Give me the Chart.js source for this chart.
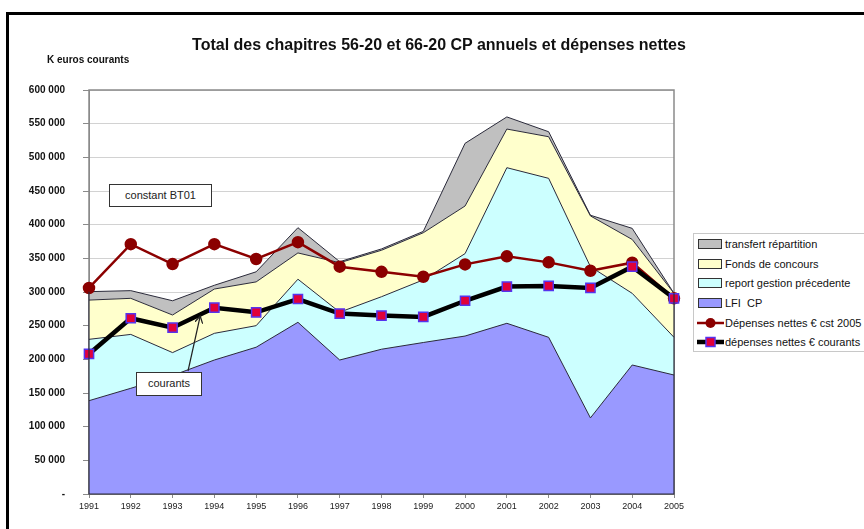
<!DOCTYPE html>
<html>
<head>
<meta charset="utf-8">
<script src="https://cdn.jsdelivr.net/npm/chart.js@4"></script>
<style>
  html, body { margin: 0; padding: 0; background: #fff; }
  #wrap { position: relative; width: 864px; height: 529px; overflow: hidden; font-family: "Liberation Sans", Arial, sans-serif; }
  #frame { position: absolute; left: 6px; top: 12px; width: 900px; height: 600px; border-left: 3px solid #000; border-top: 3px solid #000; }
  #cv { position: absolute; left: 0; top: 0; }
  #title { position: absolute; left: 0; width: 878px; top: 36px; text-align: center; font-weight: bold; font-size: 16px; color: #111; white-space: nowrap; }
  #unit { position: absolute; left: 47px; top: 54px; font-weight: bold; font-size: 10px; color: #111; white-space: nowrap; }
  #legend { position: absolute; left: 693px; top: 233px; width: 200px; height: 117px; border: 1px solid #c8c8c8; background: #fff; }
  .li { position: absolute; left: 0; height: 16px; font-size: 11px; line-height: 16px; color: #111; white-space: pre; }
  .li .sw { position: absolute; left: 4px; top: 3px; width: 22px; height: 8px; border: 1.5px solid #333; }
  .li .tx { position: absolute; left: 31px; top: 0; white-space: pre; }
  .box { position: absolute; border: 1.5px solid #333; background: #fff; font-size: 11px; text-align: center; color: #222; box-sizing: border-box; }
  #ov { position: absolute; left: 0; top: 0; }
</style>
</head>
<body>
<div id="wrap">
  <div id="frame"></div>
  <canvas id="cv" width="864" height="529"></canvas>
  <div id="title">Total des chapitres 56-20 et 66-20 CP annuels et dépenses nettes</div>
  <div id="unit">K euros courants</div>
  <div id="legend"></div>
  <svg id="ov" width="864" height="529">
    <defs>
      <marker id="ah" markerWidth="8" markerHeight="8" refX="6" refY="4" orient="auto" markerUnits="userSpaceOnUse">
        <path d="M0,0 L7,4 L0,8" fill="none" stroke="#222" stroke-width="1.2"/>
      </marker>
    </defs>
    <line x1="188" y1="371" x2="200" y2="317" stroke="#222" stroke-width="1.2" marker-end="url(#ah)"/>
  </svg>
  <div class="box" style="left:109px;top:184px;width:103px;height:23px;line-height:20px;">constant BT01</div>
  <div class="box" style="left:136px;top:372px;width:66px;height:24px;line-height:21px;">courants</div>
</div>
<script>
// ---- data (K euros courants) ----
const years = ['1991','1992','1993','1994','1995','1996','1997','1998','1999','2000','2001','2002','2003','2004','2005'];
const lfiCP = [138600,157000,176000,199000,218000,255000,199000,215000,225000,234600,253500,232700,113000,191600,176700];
const reportGestion = [91100,80000,34000,39600,32000,64000,71000,78000,93000,122400,231100,236100,224600,106400,56000];
const fondsConcours = [58300,53600,55800,65800,65000,39000,73500,69000,70000,70700,57400,61800,75400,80000,65300];
const transfertRepartition = [12500,11400,21200,5600,15000,37500,1500,2000,2000,93100,18000,7400,1000,16500,0];
const depensesCst2005 = [306000,371000,341500,371000,349000,374000,337600,330000,322700,341000,353000,344000,331600,343500,290600];
const depensesCourants = [208000,261000,247000,276700,269800,289600,268000,265000,263000,287000,308000,309000,306000,337600,290600];
const yTicks = [0,50000,100000,150000,200000,250000,300000,350000,400000,450000,500000,550000,600000];

const labels = {
  transfert: 'transfert répartition',
  fonds: 'Fonds de concours',
  report: 'report gestion précedente',
  lfi: 'LFI  CP',
  cst: 'Dépenses nettes € cst 2005',
  cour: 'dépenses nettes € courants'
};

const C = {
  lfi: '#9999FF', report: '#CCFFFF', fonds: '#FFFFCC', transfert: '#C0C0C0',
  edge: '#2a2a3a', red: '#8B0000', black: '#000000', sqFill: '#E0003A', sqEdge: '#5533EE'
};

function area(label, data, color, fill) {
  return { type: 'line', label, data, stack: 'areas', fill, backgroundColor: color,
    borderColor: C.edge, borderWidth: 1, pointRadius: 0, tension: 0 };
}

const frame = {
  id: 'frame',
  beforeDatasetsDraw(chart) {
    const a = chart.chartArea, ctx = chart.ctx;
    ctx.save(); ctx.strokeStyle = '#8a8a8a'; ctx.lineWidth = 1.5;
    ctx.strokeRect(a.left, a.top, a.right - a.left, a.bottom - a.top);
    ctx.restore();
  },
  afterDatasetsDraw(chart) {
    const ctx = chart.ctx, y = chart.scales.y, x = chart.scales.x;
    const n = years.length - 1;
    const topL = lfiCP[0] + reportGestion[0] + fondsConcours[0] + transfertRepartition[0];
    const topR = lfiCP[n] + reportGestion[n] + fondsConcours[n] + transfertRepartition[n];
    ctx.save(); ctx.strokeStyle = C.edge; ctx.lineWidth = 1.2;
    ctx.beginPath();
    ctx.moveTo(x.getPixelForValue(0), y.getPixelForValue(topL));
    ctx.lineTo(x.getPixelForValue(0), y.getPixelForValue(0));
    ctx.lineTo(x.getPixelForValue(n), y.getPixelForValue(0));
    ctx.lineTo(x.getPixelForValue(n), y.getPixelForValue(topR));
    ctx.stroke(); ctx.restore();
  }
};

new Chart(document.getElementById('cv'), {
  type: 'line',
  data: {
    labels: years,
    datasets: [
      { label: labels.cour, data: depensesCourants, stack: 'cour', fill: false, borderColor: C.black, borderWidth: 4.5,
        pointStyle: 'rect', pointRadius: 6.5, pointBackgroundColor: C.sqFill, pointBorderColor: C.sqEdge, pointBorderWidth: 1.5, tension: 0 },
      { label: labels.cst, data: depensesCst2005, stack: 'cst', fill: false, borderColor: C.red, borderWidth: 2.5,
        pointStyle: 'circle', pointRadius: 5, pointBackgroundColor: C.red, pointBorderColor: C.red, tension: 0 },
      area(labels.lfi, lfiCP, C.lfi, 'origin'),
      area(labels.report, reportGestion, C.report, '-1'),
      area(labels.fonds, fondsConcours, C.fonds, '-1'),
      area(labels.transfert, transfertRepartition, C.transfert, '-1')
    ]
  },
  options: {
    responsive: false,
    animation: false,
    events: [],
    layout: { padding: { left: 0, right: 190, top: 90, bottom: 0 } },
    plugins: { legend: { display: false }, title: { display: false }, tooltip: { enabled: false } },
    scales: {
      x: {
        offset: false,
        grid: { display: true, drawOnChartArea: false, tickLength: 4, tickColor: '#8a8a8a' },
        border: { display: true, color: '#8a8a8a' },
        ticks: { maxRotation: 0, autoSkip: false, padding: 3, color: '#222',
          font: { family: "'Liberation Sans Narrow', 'Liberation Sans', Arial", size: 9 } },
        afterFit(s) { s.height = 35; }
      },
      y: {
        stacked: true,
        min: 0, max: 600000,
        afterBuildTicks(s) { s.ticks = yTicks.map(v => ({ value: v })); },
        grid: { color: '#d2d2d2', lineWidth: 1, tickLength: 6, tickColor: '#8a8a8a' },
        border: { display: true, color: '#8a8a8a' },
        ticks: { padding: 18, color: '#111',
          font: { family: "'Liberation Sans', Arial", size: 10, weight: 'bold' },
          callback: v => v === 0 ? '-' : (v / 1000) + ' 000' },
        afterFit(s) { s.width = 89; }
      }
    }
  },
  plugins: [frame]
});

// ---- HTML legend built from the same labels/colours ----
const legendItems = [
  { t: labels.transfert, kind: 'area', c: C.transfert },
  { t: labels.fonds, kind: 'area', c: C.fonds },
  { t: labels.report, kind: 'area', c: C.report },
  { t: labels.lfi, kind: 'area', c: C.lfi },
  { t: labels.cst, kind: 'cst' },
  { t: labels.cour, kind: 'cour' }
];
const lg = document.getElementById('legend');
const rowY = [2, 22, 41, 61, 81, 100];
legendItems.forEach((it, i) => {
  const d = document.createElement('div');
  d.className = 'li';
  d.style.top = rowY[i] + 'px';
  let sw;
  if (it.kind === 'area') {
    sw = `<div class="sw" style="background:${it.c}"></div>`;
  } else if (it.kind === 'cst') {
    sw = `<svg style="position:absolute;left:3px;top:0" width="28" height="16"><line x1="0" y1="8" x2="27" y2="8" stroke="${C.red}" stroke-width="2.5"/><circle cx="13.5" cy="8" r="5" fill="${C.red}"/></svg>`;
  } else {
    sw = `<svg style="position:absolute;left:3px;top:0" width="28" height="16"><line x1="0" y1="8" x2="27" y2="8" stroke="#000" stroke-width="4.5"/><rect x="9" y="3.5" width="9" height="9" fill="${C.sqFill}" stroke="${C.sqEdge}" stroke-width="1.5"/></svg>`;
  }
  d.innerHTML = sw + `<span class="tx">${it.t}</span>`;
  lg.appendChild(d);
});
</script>
</body>
</html>
